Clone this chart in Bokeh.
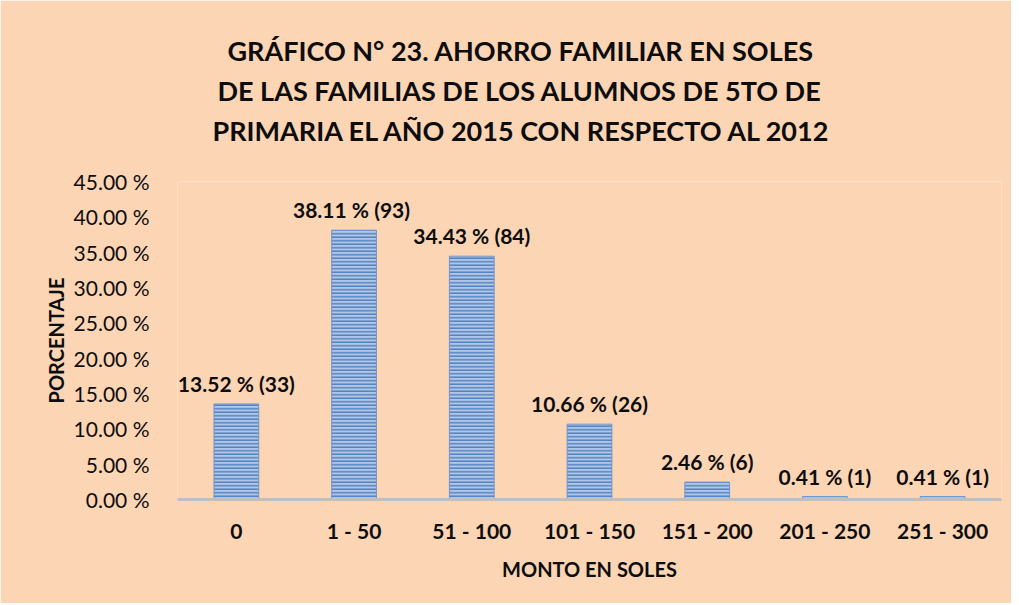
from bokeh.plotting import figure
from bokeh.models import FactorRange, Range1d, SingleIntervalTicker, PrintfTickFormatter, ColumnDataSource, Title
from bokeh.core.properties import value
from bokeh.embed import file_html
from bokeh.resources import INLINE

categories = ["0", "1 - 50", "51 - 100", "101 - 150", "151 - 200", "201 - 250", "251 - 300"]
percentages = [13.52, 38.11, 34.43, 10.66, 2.46, 0.41, 0.41]
counts = [33, 93, 84, 26, 6, 1, 1]
bar_labels = ["13.52 % (33)", "38.11 %  (93)", "34.43 % (84)", "10.66 % (26)",
              "2.46 % (6)", "0.41 % (1)", "0.41 % (1)"]
title_lines = ["GRÁFICO N° 23. AHORRO FAMILIAR EN SOLES",
               "DE LAS FAMILIAS DE LOS ALUMNOS DE 5TO DE",
               "PRIMARIA EL AÑO 2015 CON RESPECTO AL 2012"]

BG = "#FCD5B5"
FONT = "Lato"
TXT = "#0D0D0D"

src = ColumnDataSource(dict(cat=categories, pct=percentages, cnt=counts, lab=bar_labels))

p = figure(frame_width=824, frame_height=318, x_range=FactorRange(factors=categories),
           y_range=Range1d(0, 45), output_backend="svg", toolbar_location=None,
           min_border_left=177, min_border_right=10, min_border_top=181, min_border_bottom=104)

p.background_fill_color = BG
p.border_fill_color = BG
p.outline_line_color = None

# empty spacer between the frame and the title block
p.add_layout(Title(text=" ", text_font_size="2px", standoff=28), "above")

# titles: added from the one nearest the frame outward
title_offsets = [50, 40, 35]
title_standoffs = [5, 5, 5]
for i in (2, 1, 0):
    p.add_layout(Title(text=title_lines[i], align="left", offset=title_offsets[i],
                       standoff=title_standoffs[i], text_font=FONT, text_font_size="27px",
                       text_font_style="bold", text_color=TXT), "above")

p.vbar(x="cat", top="pct", width=0.38, source=src,
       fill_color="#B0C7E8", line_color="#6F95CC", line_width=1,
       hatch_pattern="horizontal_line", hatch_color="#5582C0",
       hatch_scale=3.5, hatch_weight=1.5)

p.text(x="cat", y="pct", text="lab", source=src, text_align="center",
       text_baseline="bottom", y_offset=-8, text_font=value(FONT),
       text_font_size="21px", text_font_style="bold", text_color=TXT)

p.xgrid.grid_line_color = None
p.ygrid.grid_line_color = None

ya = p.yaxis[0]
ya.ticker = SingleIntervalTicker(interval=5)
ya.formatter = PrintfTickFormatter(format="%.2f %%")
ya.axis_line_color = None
ya.major_tick_line_color = None
ya.minor_tick_line_color = None
ya.major_label_text_font = FONT
ya.major_label_text_font_size = "21px"
ya.major_label_text_color = TXT
ya.major_label_standoff = 22
ya.axis_label = "PORCENTAJE"
ya.axis_label_text_font = FONT
ya.axis_label_text_font_size = "20px"
ya.axis_label_text_font_style = "bold"
ya.axis_label_text_color = TXT
ya.axis_label_standoff = 3

xa = p.xaxis[0]
xa.axis_line_color = "#BFBFBF"
xa.axis_line_width = 3
xa.major_tick_line_color = None
xa.minor_tick_line_color = None
xa.major_label_text_font = FONT
xa.major_label_text_font_size = "21px"
xa.major_label_text_font_style = "bold"
xa.major_label_text_color = TXT
xa.major_label_standoff = 12
xa.axis_label = "MONTO EN SOLES"
xa.axis_label_text_font = FONT
xa.axis_label_text_font_size = "20px"
xa.axis_label_text_font_style = "bold"
xa.axis_label_text_color = TXT
xa.axis_label_standoff = 11

open("out.html", "w").write(file_html(p, INLINE))
